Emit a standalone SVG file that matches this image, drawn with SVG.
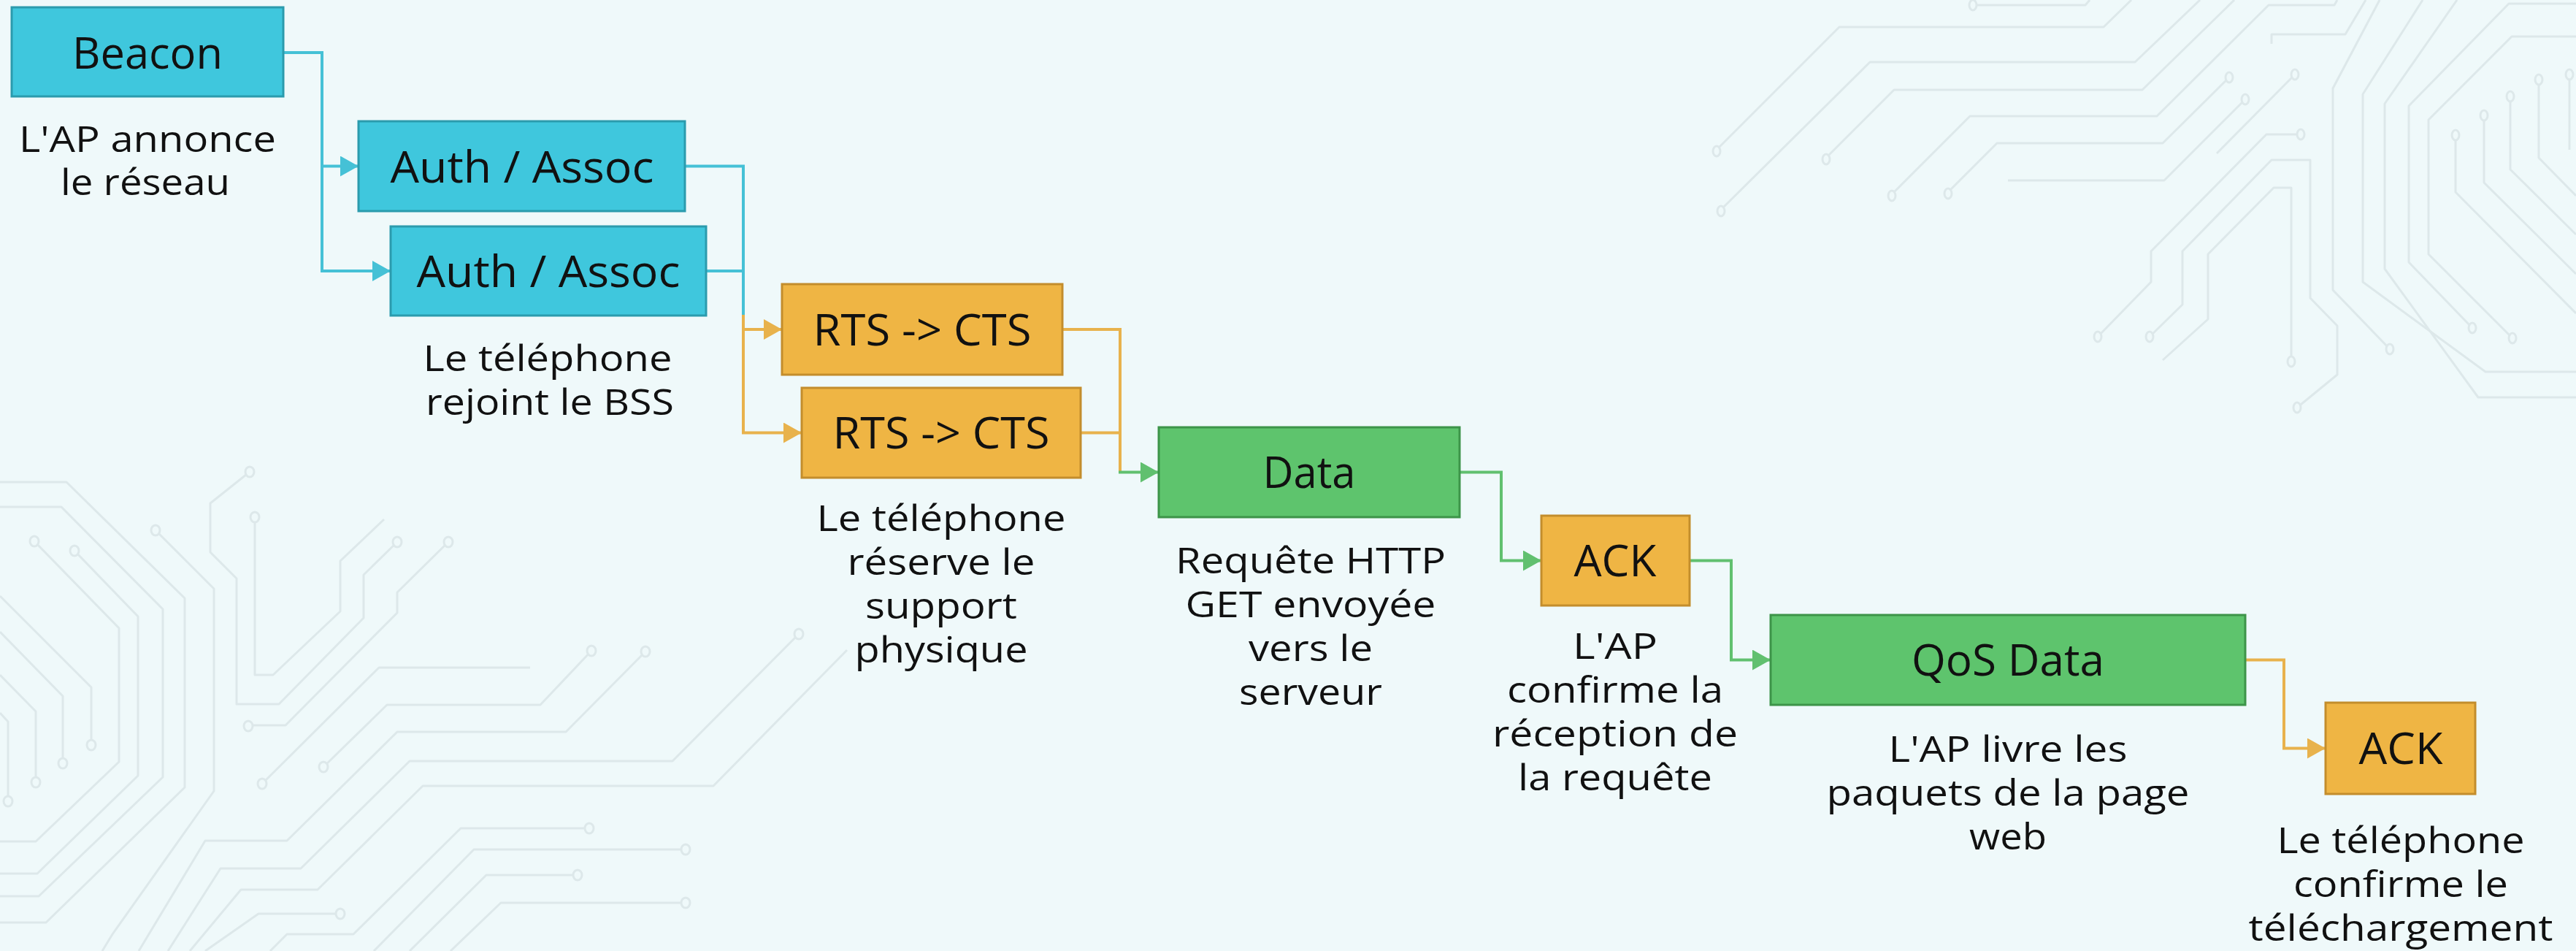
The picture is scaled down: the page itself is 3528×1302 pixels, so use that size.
<svg xmlns="http://www.w3.org/2000/svg" width="3528" height="1302" viewBox="0 0 3528 1302">
<style>
.bg{fill:#eff9fa}
.trace{fill:none;stroke:#dde8ea;stroke-width:3;stroke-linejoin:round}
.pad{fill:#eff9fa;stroke:#dde8ea;stroke-width:3}
.box{stroke-width:3}
.teal{fill:#3fc7dd;stroke:#2b9bad}
.orange{fill:#efb544;stroke:#c38d2c}
.green{fill:#5ec46d;stroke:#3d9449}
.lbl{font-family:"Open Sans","Noto Sans",sans-serif;font-size:60px;font-weight:500;fill:#111;text-anchor:middle}
.desc{font-family:"Open Sans","Noto Sans",sans-serif;font-size:49px;font-weight:500;fill:#111;text-anchor:middle}
.c{fill:none;stroke-width:4;stroke-linejoin:miter}
.ct{stroke:#45c1d6}
.co{stroke:#e8b24c}
.cg{stroke:#61c06f}
</style>
<defs>
<marker id="at" markerUnits="userSpaceOnUse" markerWidth="26" markerHeight="30" refX="25" refY="14" orient="auto"><path d="M0,0 L25,14 L0,28 Z" fill="#45c1d6"/></marker>
<marker id="ao" markerUnits="userSpaceOnUse" markerWidth="26" markerHeight="30" refX="25" refY="14" orient="auto"><path d="M0,0 L25,14 L0,28 Z" fill="#e8b24c"/></marker>
<marker id="ag" markerUnits="userSpaceOnUse" markerWidth="26" markerHeight="30" refX="25" refY="14" orient="auto"><path d="M0,0 L25,14 L0,28 Z" fill="#61c06f"/></marker>
</defs>
<rect class="bg" x="0" y="0" width="3528" height="1302"/>
<g id="background-circuits">
<path class="trace" d="M2351,205 L2519,37 H2881 L2919,0"/>
<path class="trace" d="M2357,287 L2561,85 H2924 L3013,0"/>
<path class="trace" d="M2501,216 L2594,123 H2934 L3060,0"/>
<path class="trace" d="M2591,266 L2698,159 H2954 L3107,7 H3197 L3201,0"/>
<path class="trace" d="M2668,263 L2735,196 H2962 L3053,106"/>
<path class="trace" d="M2750,247 H2964 L3075,136"/>
<path class="trace" d="M2702,7 H2856 L2862,0"/>
<path class="trace" d="M3111,60 V47 H3212 L3240,0"/>
<path class="trace" d="M3143,102 L3036,210"/>
<path class="trace" d="M3151,184 H3104 L2946,344 V386 L2873,461"/>
<path class="trace" d="M2944,461 L2989,417 V344 L3111,219 H3164 V408 L3201,446 V513 L3146,558"/>
<path class="trace" d="M3138,495 V257 H3114 L3024,348 V437 L2962,493"/>
<path class="trace" d="M3259,0 L3195,121 V397 L3273,478"/>
<path class="trace" d="M3318,0 L3236,129 V386 L3404,509 H3528"/>
<path class="trace" d="M3365,0 L3266,142 V368 L3394,544 H3528"/>
<path class="trace" d="M3528,5 H3436 L3299,145 V359 L3386,449"/>
<path class="trace" d="M3528,50 H3440 L3326,164 V348 L3441,463"/>
<path class="trace" d="M3363,185 V263 L3528,429"/>
<path class="trace" d="M3402,158 V250 L3528,375"/>
<path class="trace" d="M3438,132 V232 L3528,321"/>
<path class="trace" d="M3477,109 V216 L3528,268"/>
<path class="trace" d="M3519,102 V205"/>
<path class="trace" d="M0,660 H91 L253,819 V1078 L63,1263 H0"/>
<path class="trace" d="M0,694 H84 L223,834 V1064 L53,1227 H0"/>
<path class="trace" d="M47,741 L163,860 V1043 L49,1152 H0"/>
<path class="trace" d="M102,754 L189,844 V1062 L51,1196 H0"/>
<path class="trace" d="M0,816 L125,941 V1020"/>
<path class="trace" d="M0,865 L86,953 V1045"/>
<path class="trace" d="M0,924 L49,974 V1071"/>
<path class="trace" d="M0,976 L11,988 V1097"/>
<path class="trace" d="M213,726 L293,806 V1083 L154,1279 L140,1302"/>
<path class="trace" d="M342,646 L288,689 V756 L324,792 V964 H382 L498,846 V787 L544,742"/>
<path class="trace" d="M349,708 V924 H374 L466,837 V768 L526,711"/>
<path class="trace" d="M614,742 L544,811 V839 L391,993 H340"/>
<path class="trace" d="M359,1073 L519,914 H726"/>
<path class="trace" d="M443,1050 L530,965 H740 L810,891"/>
<path class="trace" d="M190,1302 L281,1151 H393 L544,1002 H775 L884,892"/>
<path class="trace" d="M230,1302 L302,1189 H412 L561,1042 H921 L1094,868"/>
<path class="trace" d="M260,1302 L330,1218 H435 L579,1076 H977 L1160,890"/>
<path class="trace" d="M281,1302 L354,1251 H466"/>
<path class="trace" d="M370,1302 L393,1279 H484 L631,1134 H807"/>
<path class="trace" d="M512,1302 L649,1163 H939"/>
<path class="trace" d="M561,1302 L666,1198 H791"/>
<path class="trace" d="M617,1302 L686,1236 H939"/>
<g>
<ellipse class="pad" cx="2351" cy="207" rx="5" ry="7"/><ellipse class="pad" cx="2357" cy="289" rx="5" ry="7"/>
<ellipse class="pad" cx="2501" cy="218" rx="5" ry="7"/><ellipse class="pad" cx="2591" cy="268" rx="5" ry="7"/>
<ellipse class="pad" cx="2668" cy="265" rx="5" ry="7"/><ellipse class="pad" cx="3053" cy="106" rx="5" ry="7"/>
<ellipse class="pad" cx="3075" cy="136" rx="5" ry="7"/><ellipse class="pad" cx="2702" cy="7" rx="5" ry="7"/>
<ellipse class="pad" cx="3143" cy="102" rx="5" ry="7"/><ellipse class="pad" cx="3151" cy="184" rx="5" ry="7"/>
<ellipse class="pad" cx="2873" cy="461" rx="5" ry="7"/><ellipse class="pad" cx="2944" cy="461" rx="5" ry="7"/>
<ellipse class="pad" cx="3146" cy="558" rx="5" ry="7"/><ellipse class="pad" cx="3138" cy="495" rx="5" ry="7"/>
<ellipse class="pad" cx="3273" cy="478" rx="5" ry="7"/><ellipse class="pad" cx="3386" cy="449" rx="5" ry="7"/>
<ellipse class="pad" cx="3441" cy="463" rx="5" ry="7"/><ellipse class="pad" cx="3363" cy="185" rx="5" ry="7"/>
<ellipse class="pad" cx="3402" cy="158" rx="5" ry="7"/><ellipse class="pad" cx="3438" cy="132" rx="5" ry="7"/>
<ellipse class="pad" cx="3477" cy="109" rx="5" ry="7"/><ellipse class="pad" cx="3519" cy="102" rx="5" ry="7"/>
<ellipse class="pad" cx="47" cy="741" rx="6" ry="7"/><ellipse class="pad" cx="102" cy="754" rx="6" ry="7"/>
<ellipse class="pad" cx="125" cy="1020" rx="6" ry="7"/><ellipse class="pad" cx="86" cy="1045" rx="6" ry="7"/>
<ellipse class="pad" cx="49" cy="1071" rx="6" ry="7"/><ellipse class="pad" cx="11" cy="1097" rx="6" ry="7"/>
<ellipse class="pad" cx="213" cy="726" rx="6" ry="7"/><ellipse class="pad" cx="342" cy="646" rx="6" ry="7"/>
<ellipse class="pad" cx="349" cy="708" rx="6" ry="7"/><ellipse class="pad" cx="544" cy="742" rx="6" ry="7"/>
<ellipse class="pad" cx="614" cy="742" rx="6" ry="7"/><ellipse class="pad" cx="340" cy="994" rx="6" ry="7"/>
<ellipse class="pad" cx="359" cy="1073" rx="6" ry="7"/><ellipse class="pad" cx="443" cy="1050" rx="6" ry="7"/>
<ellipse class="pad" cx="810" cy="891" rx="6" ry="7"/><ellipse class="pad" cx="884" cy="892" rx="6" ry="7"/>
<ellipse class="pad" cx="1094" cy="868" rx="6" ry="7"/><ellipse class="pad" cx="466" cy="1251" rx="6" ry="7"/>
<ellipse class="pad" cx="807" cy="1134" rx="6" ry="7"/><ellipse class="pad" cx="939" cy="1163" rx="6" ry="7"/>
<ellipse class="pad" cx="791" cy="1198" rx="6" ry="7"/><ellipse class="pad" cx="939" cy="1236" rx="6" ry="7"/>
</g>
</g>
<g id="connectors">
<path class="c ct" d="M388,72 H441 V227.5 H491" marker-end="url(#at)"/>
<path class="c ct" d="M441,227.5 V371 H535" marker-end="url(#at)"/>
<path class="c ct" d="M938,227.5 H1018 V433"/>
<path class="c ct" d="M967,371 H1018"/>
<path class="c co" d="M1018,431 V451 H1071" marker-end="url(#ao)"/>
<path class="c co" d="M1018,451 V592.5 H1098" marker-end="url(#ao)"/>
<path class="c co" d="M1455,451 H1534 V646.5"/>
<path class="c co" d="M1480,592.5 H1534"/>
<path class="c cg" d="M1532,646.5 H1587" marker-end="url(#ag)"/>
<path class="c cg" d="M1999,646.5 H2056 V767.5 H2111" marker-end="url(#ag)"/>
<path class="c cg" d="M2314,767.5 H2371 V903.5 H2425" marker-end="url(#ag)"/>
<path class="c co" d="M3075,903.5 H3128 V1024.5 H3185" marker-end="url(#ao)"/>
</g>
<g id="beacon">
<rect class="box teal" x="16" y="10" width="372" height="122"/>
<text class="lbl" x="202" y="94" textLength="206" lengthAdjust="spacingAndGlyphs">Beacon</text>
<text class="desc" x="202" y="208" textLength="352" lengthAdjust="spacingAndGlyphs">L'AP annonce</text>
<text class="desc" x="199" y="267" textLength="232" lengthAdjust="spacingAndGlyphs">le réseau</text>
</g>
<g id="auth-assoc-1">
<rect class="box teal" x="491" y="166" width="447" height="123"/>
<text class="lbl" x="715" y="250" textLength="361" lengthAdjust="spacingAndGlyphs">Auth / Assoc</text>
</g>
<g id="auth-assoc-2">
<rect class="box teal" x="535" y="310" width="432" height="122"/>
<text class="lbl" x="751" y="393" textLength="361" lengthAdjust="spacingAndGlyphs">Auth / Assoc</text>
<text class="desc" x="750" y="508" textLength="341" lengthAdjust="spacingAndGlyphs">Le téléphone</text>
<text class="desc" x="753" y="568" textLength="340" lengthAdjust="spacingAndGlyphs">rejoint le BSS</text>
</g>
<g id="rts-cts-1">
<rect class="box orange" x="1071" y="389" width="384" height="124"/>
<text class="lbl" x="1263" y="473" textLength="299" lengthAdjust="spacingAndGlyphs">RTS -&gt; CTS</text>
</g>
<g id="rts-cts-2">
<rect class="box orange" x="1098" y="531" width="382" height="123"/>
<text class="lbl" x="1289" y="614" textLength="297" lengthAdjust="spacingAndGlyphs">RTS -&gt; CTS</text>
<text class="desc" x="1289" y="727" textLength="341" lengthAdjust="spacingAndGlyphs">Le téléphone</text>
<text class="desc" x="1289" y="787" textLength="257" lengthAdjust="spacingAndGlyphs">réserve le</text>
<text class="desc" x="1289" y="847" textLength="208" lengthAdjust="spacingAndGlyphs">support</text>
<text class="desc" x="1289" y="907" textLength="237" lengthAdjust="spacingAndGlyphs">physique</text>
</g>
<g id="data">
<rect class="box green" x="1587" y="585" width="412" height="123"/>
<text class="lbl" x="1793" y="668" textLength="127" lengthAdjust="spacingAndGlyphs">Data</text>
<text class="desc" x="1795" y="785" textLength="370" lengthAdjust="spacingAndGlyphs">Requête HTTP</text>
<text class="desc" x="1795" y="845" textLength="343" lengthAdjust="spacingAndGlyphs">GET envoyée</text>
<text class="desc" x="1795" y="905" textLength="170" lengthAdjust="spacingAndGlyphs">vers le</text>
<text class="desc" x="1795" y="965" textLength="196" lengthAdjust="spacingAndGlyphs">serveur</text>
</g>
<g id="ack-1">
<rect class="box orange" x="2111" y="706" width="203" height="123"/>
<text class="lbl" x="2212" y="789" textLength="113" lengthAdjust="spacingAndGlyphs">ACK</text>
<text class="desc" x="2212" y="902" textLength="116" lengthAdjust="spacingAndGlyphs">L'AP</text>
<text class="desc" x="2212" y="962" textLength="296" lengthAdjust="spacingAndGlyphs">confirme la</text>
<text class="desc" x="2212" y="1022" textLength="336" lengthAdjust="spacingAndGlyphs">réception de</text>
<text class="desc" x="2212" y="1082" textLength="266" lengthAdjust="spacingAndGlyphs">la requête</text>
</g>
<g id="qos-data">
<rect class="box green" x="2425" y="842" width="650" height="123"/>
<text class="lbl" x="2750" y="925" textLength="264" lengthAdjust="spacingAndGlyphs">QoS Data</text>
<text class="desc" x="2750" y="1043" textLength="327" lengthAdjust="spacingAndGlyphs">L'AP livre les</text>
<text class="desc" x="2750" y="1103" textLength="497" lengthAdjust="spacingAndGlyphs">paquets de la page</text>
<text class="desc" x="2750" y="1163" textLength="106" lengthAdjust="spacingAndGlyphs">web</text>
</g>
<g id="ack-2">
<rect class="box orange" x="3185" y="962" width="205" height="125"/>
<text class="lbl" x="3288" y="1046" textLength="115" lengthAdjust="spacingAndGlyphs">ACK</text>
<text class="desc" x="3288" y="1168" textLength="339" lengthAdjust="spacingAndGlyphs">Le téléphone</text>
<text class="desc" x="3288" y="1228" textLength="294" lengthAdjust="spacingAndGlyphs">confirme le</text>
<text class="desc" x="3288" y="1288" textLength="417" lengthAdjust="spacingAndGlyphs">téléchargement</text>
</g>
</svg>
